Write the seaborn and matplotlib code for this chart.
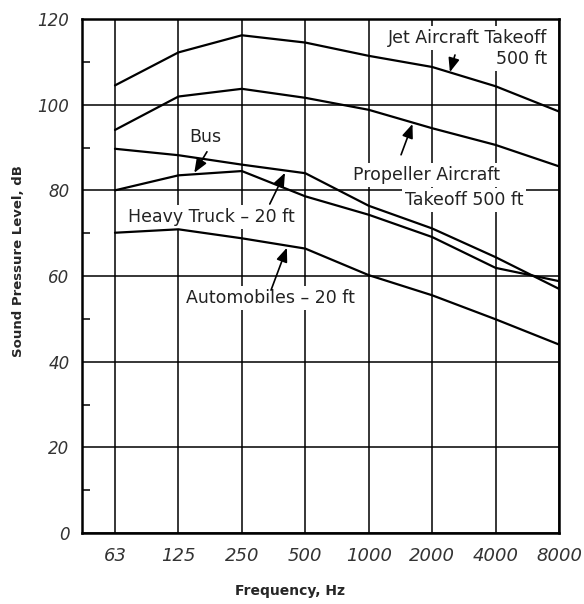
import numpy as np
import pandas as pd
import matplotlib
matplotlib.use("Agg")
import matplotlib.pyplot as plt
import seaborn as sns
from matplotlib.ticker import MultipleLocator

# ---- data ----
freq_labels = ["63", "125", "250", "500", "1000", "2000", "4000", "8000"]
jet = [104.5, 112.2, 116.2, 114.5, 111.4, 108.8, 104.3, 98.4]
propeller = [94.1, 101.9, 103.7, 101.6, 98.8, 94.5, 90.6, 85.6]
heavy_truck = [89.7, 88.2, 86.0, 84.0, 76.4, 71.1, 64.4, 57.0]
bus = [80.0, 83.5, 84.5, 78.6, 74.3, 69.1, 61.9, 58.8]
automobiles = [70.1, 70.9, 68.8, 66.4, 60.2, 55.5, 49.9, 44.0]
y_ticks = [0, 20, 40, 60, 80, 100, 120]

series = {
    "Jet": jet,
    "Propeller": propeller,
    "Heavy Truck": heavy_truck,
    "Bus": bus,
    "Automobiles": automobiles,
}
rows = []
for name, vals in series.items():
    for i, v in enumerate(vals):
        rows.append({"pos": i, "freq": freq_labels[i], "dB": v, "source": name})
df = pd.DataFrame(rows)

sns.set_style("white")
plt.rcParams["font.family"] = ["DejaVu Sans"]

fig = plt.figure(figsize=(5.84, 6.04), dpi=100)
ax = fig.add_axes([82 / 584, 1 - 533 / 604, 477 / 584, 514 / 604])

sns.lineplot(data=df, x="pos", y="dB", hue="source", palette=["black"] * 5,
             legend=False, linewidth=1.6, sort=False, ax=ax, zorder=4)

ax.set_xlim(-0.52, 7)
ax.set_ylim(0, 120)
ax.set_xticks(range(len(freq_labels)))
ax.set_xticklabels(freq_labels)
ax.set_yticks(y_ticks)
ax.set_yticklabels([str(t) for t in y_ticks])
ax.yaxis.set_minor_locator(MultipleLocator(10))

ax.grid(True, which="major", color="black", linewidth=1.1)
ax.set_axisbelow(True)
for s in ax.spines.values():
    s.set_color("black")
    s.set_linewidth(1.8)

ax.tick_params(axis="both", which="major", length=0, colors="#333333")
ax.tick_params(axis="y", which="major", pad=9, labelsize=12)
ax.tick_params(axis="x", which="major", pad=10, labelsize=13)
ax.tick_params(axis="y", which="minor", direction="in", length=6, width=1.1,
               left=True, color="black")
for lab in ax.get_xticklabels() + ax.get_yticklabels():
    lab.set_fontstyle("italic")

ax.set_xlabel("Frequency, Hz", fontsize=10, fontweight="bold")
ax.set_ylabel("Sound Pressure Level, dB", fontsize=9.5, fontweight="bold")
ax.xaxis.set_label_coords(0.436, -0.100)
ax.yaxis.set_label_coords(-0.119, 0.529)

box = dict(facecolor="white", edgecolor="none", pad=2)
tkw = dict(fontsize=12.5, color="#222222", zorder=3)
ax.text(6.81, 115.6, "Jet Aircraft Takeoff", ha="right", va="center", bbox=box, **tkw)
ax.text(6.81, 110.6, "500 ft", ha="right", va="center", bbox=box, **tkw)
ax.text(3.75, 83.6, "Propeller Aircraft", ha="left", va="center", bbox=box, **tkw)
ax.text(4.57, 77.7, "Takeoff 500 ft", ha="left", va="center", bbox=box, **tkw)
ax.text(1.42, 92.5, "Bus", ha="center", va="center", bbox=box, **tkw)
ax.text(1.52, 73.8, "Heavy Truck \u2013 20 ft", ha="center", va="center", bbox=box, **tkw)
ax.text(2.45, 54.9, "Automobiles \u2013 20 ft", ha="center", va="center", bbox=box, **tkw)

arw = dict(arrowstyle="-|>,head_length=0.7,head_width=0.28", color="black",
           lw=1.2, shrinkA=0, shrinkB=0, mutation_scale=12)
arrows = [
    ((5.36, 111.6), (5.28, 107.6)),
    ((4.51, 88.3), (4.69, 95.5)),
    ((1.45, 89.0), (1.25, 84.1)),
    ((2.44, 76.8), (2.68, 84.1)),
    ((2.46, 56.7), (2.71, 66.6)),
]
for tail, head in arrows:
    ax.annotate("", xy=head, xytext=tail, arrowprops=arw, zorder=6)

fig.savefig("out.png", dpi=100, facecolor="white")
